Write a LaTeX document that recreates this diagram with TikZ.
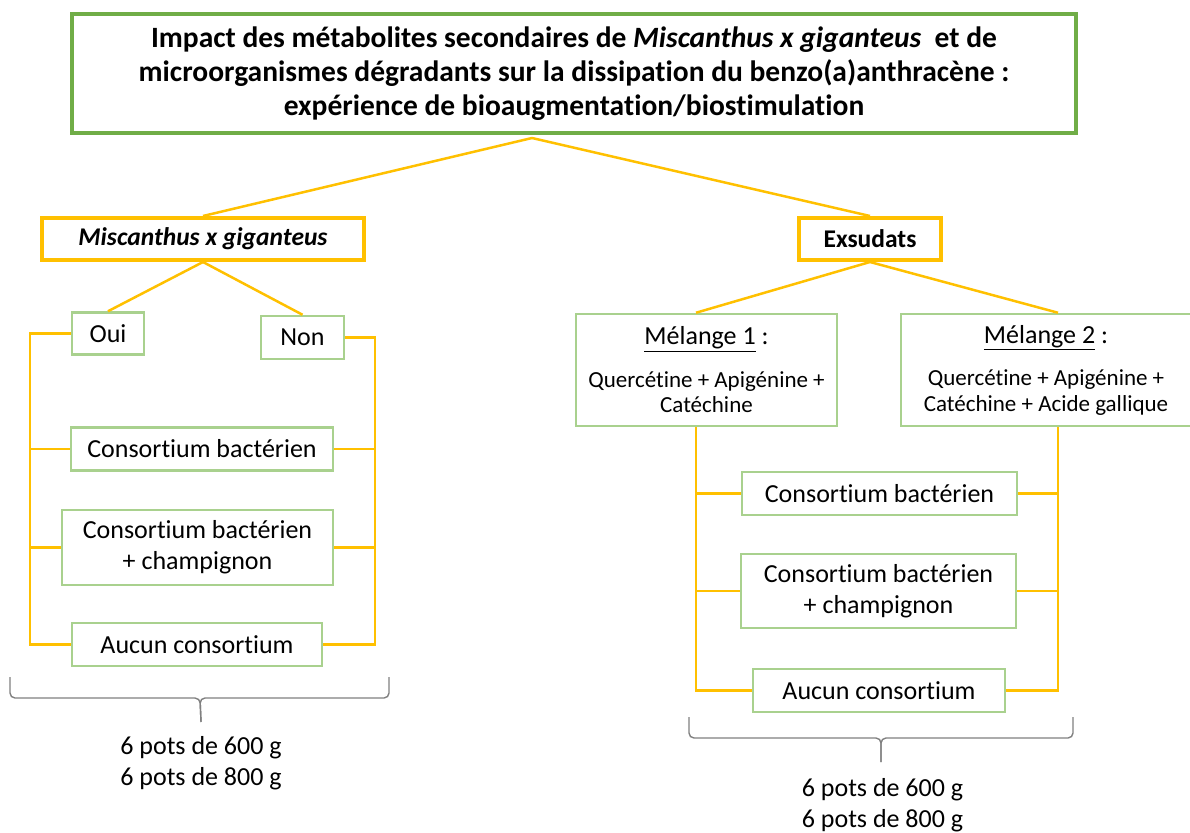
\documentclass[tikz,border=0pt]{standalone}
\usepackage{fontspec}
\setmainfont{Carlito}[Ligatures=NoCommon]
\usepackage{xcolor}
\usepackage{tikz}
\definecolor{titlegreen}{RGB}{112,173,71}
\definecolor{leafgreen}{RGB}{169,209,142}
\definecolor{linkgold}{RGB}{255,192,0}
\definecolor{bracegray}{RGB}{128,128,128}
\usetikzlibrary{positioning,calc}

\begin{document}
\begin{tikzpicture}[
    x=1pt, y=-1pt,
    titlebox/.style={rectangle, draw=titlegreen, line width=4.5pt, minimum width=1004pt, minimum height=119pt, inner sep=0pt, align=center, font=\bfseries\fontsize{29.5}{34}\selectfont},
    catbox/.style={rectangle, draw=linkgold, line width=4pt, minimum height=42pt, inner sep=0pt, font=\bfseries\fontsize{25.5}{30}\selectfont},
    leafbox/.style={rectangle, draw=leafgreen, line width=2.5pt, inner sep=0pt, align=center, font=\fontsize{26}{31}\selectfont},
    mixbox/.style={leafbox, minimum height=112pt, font=\fontsize{23}{25.5}\selectfont},
    potsnote/.style={align=center, font=\fontsize{26}{31}\selectfont},
    link/.style={draw=linkgold, line width=2.5pt},
    bracket/.style={draw=bracegray, line width=1.4pt, rounded corners=5pt}
]
\useasboundingbox (0,0) rectangle (1190,832);

\node[titlebox] (title) at (574,73.5) {Impact des métabolites secondaires de \textit{Miscanthus x giganteus}\ \ et de\\microorganismes dégradants sur la dissipation du benzo(a)anthracène :\\expérience de bioaugmentation/biostimulation};

\node[catbox, minimum width=322pt] (misc) at (203,239) {\textit{Miscanthus x giganteus}};
\node[catbox, minimum width=142pt] (exs) at (870,239) {Exsudats};

% plante
\node[leafbox, minimum width=72pt, minimum height=42pt] (oui) at (108,333.5) {Oui};
\node[leafbox, minimum width=83pt, minimum height=43pt] (non) at (302.5,337.5) {Non};
\node[leafbox, minimum width=262pt, minimum height=43pt] (cbL) at (202,449) {Consortium bactérien};
\node[leafbox, minimum width=271pt, minimum height=75pt] (cbcL) at (197.5,547.5) {Consortium bactérien\\+ champignon};
\node[leafbox, minimum width=250pt, minimum height=43pt] (aucL) at (197,644.5) {Aucun consortium};

% exsudats
\node[mixbox, minimum width=261pt] (mel1) at (706.5,370) {{\fontsize{26}{30}\selectfont\underline{Mélange 1} :}\\[17pt]Quercétine + Apigénine +\\Catéchine};
\node[mixbox, minimum width=290pt] (mel2) at (1046,370) {{\fontsize{26}{30}\selectfont\underline{Mélange 2} :}\\[17pt]Quercétine + Apigénine +\\Catéchine + Acide gallique};
\node[leafbox, minimum width=275pt, minimum height=43pt] (cbR) at (879.5,493.5) {Consortium bactérien};
\node[leafbox, minimum width=275pt, minimum height=74pt] (cbcR) at (878.5,591) {Consortium bactérien\\+ champignon};
\node[leafbox, minimum width=252pt, minimum height=43pt] (aucR) at (879,690.5) {Aucun consortium};

\node[potsnote] (potsL) at (201,763.5) {6 pots de 600 g\\6 pots de 800 g};
\node[potsnote] (potsR) at (882.5,805.5) {6 pots de 600 g\\6 pots de 800 g};

\coordinate (apex) at (532,138);
\coordinate (lbusL) at (30,333);
\coordinate (rbusL) at (375,335);
\coordinate (lbusR) at (696,427);
\coordinate (rbusR) at (1058,427);

\draw[link] (apex) -- (misc.north);
\draw[link] (apex) -- (exs.north);
\draw[link] (misc.south) -- (oui.north);
\draw[link] (misc.south) -- (non.north);
\draw[link] (exs.south) -- (mel1.north -| lbusR);
\draw[link] (exs.south) -- (mel2.north -| rbusR);

\draw[link] (oui.west) -- (oui.west -| lbusL) |- (aucL.west);
\draw[link] (cbL.west) -- (cbL.west -| lbusL);
\draw[link] (cbcL.west) -- (cbcL.west -| lbusL);
\draw[link] (non.east) -- (non.east -| rbusL) |- (aucL.east);
\draw[link] (cbL.east) -- (cbL.east -| rbusL);
\draw[link] (cbcL.east) -- (cbcL.east -| rbusL);

\draw[link] (mel1.south -| lbusR) |- (aucR.west);
\draw[link] (cbR.west) -- (cbR.west -| lbusR);
\draw[link] (cbcR.west) -- (cbcR.west -| lbusR);
\draw[link] (mel2.south -| rbusR) |- (aucR.east);
\draw[link] (cbR.east) -- (cbR.east -| rbusR);
\draw[link] (cbcR.east) -- (cbcR.east -| rbusR);

% accolades
\coordinate (midL) at (200,698);
\coordinate (midR) at (881,738);
\draw[bracket] (10,677) |- (midL) -- (potsL.north |- 0,722);
\draw[bracket] (389,677) |- (midL) -- (potsL.north |- 0,722);
\draw[bracket] (689,717) |- (midR) -- (midR |- 0,762);
\draw[bracket] (1073,717) |- (midR) -- (midR |- 0,762);

\end{tikzpicture}
\end{document}
